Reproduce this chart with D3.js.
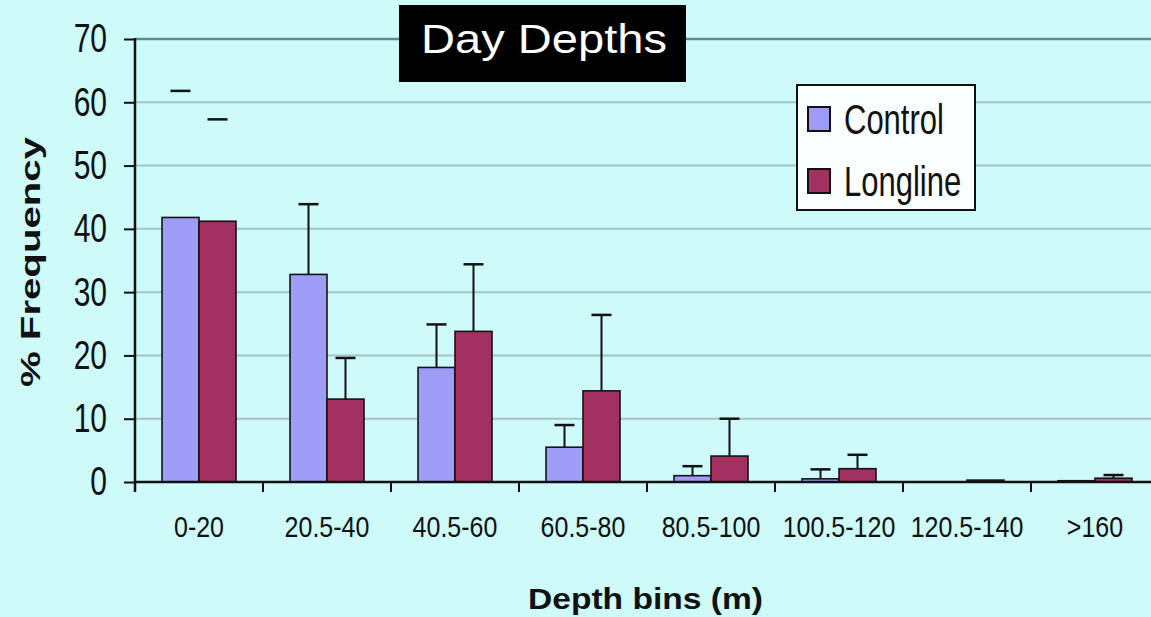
<!DOCTYPE html>
<html>
<head>
<meta charset="utf-8">
<script src="https://cdn.jsdelivr.net/npm/d3@7"></script>
<style>
  html, body { margin: 0; padding: 0; background: #cefafa; }
  svg { display: block; }
  text { font-family: "Liberation Sans", Arial, sans-serif; }
</style>
</head>
<body>
<svg id="chart" width="1151" height="617"></svg>
<script>
"use strict";

/********/
/* data */
/********/

const categories = ["0-20", "20.5-40", "40.5-60", "60.5-80", "80.5-100", "100.5-120", "120.5-140", ">160"];
const seriesNames = ["Control", "Longline"];
const controlValues = [41.8, 32.8, 18.1, 5.5, 1.0, 0.5, 0, 0.2];
const controlErrors = [20.0, 11.1, 6.8, 3.5, 1.5, 1.5, 0, 0];
const longlineValues = [41.2, 13.1, 23.8, 14.4, 4.1, 2.1, 0.3, 0.6];
const longlineErrors = [16.1, 6.5, 10.6, 12.0, 5.9, 2.2, 0, 0.5];
const yTicks = [0, 10, 20, 30, 40, 50, 60, 70];
const chartTitle = "Day Depths";
const xTitle = "Depth bins (m)";
const yTitle = "% Frequency";

/*********/
/* style */
/*********/

const colours = { Control: "#9e9cf6", Longline: "#a3315f" };
const capOnly = ["0-20"]; // stems not visible in the original for this bin
const width = 1151;

/**********/
/* scales */
/**********/

const x = d3.scaleBand().domain(categories).range([135, 1159]);
const xs = d3.scaleBand().domain(seriesNames).range([0, x.bandwidth()]).paddingOuter(0.73);
const y = d3.scaleLinear().domain([0, 70]).range([482, 39]);

const rows = seriesNames.map((name, si) => {
  const values = si === 0 ? controlValues : longlineValues;
  const errors = si === 0 ? controlErrors : longlineErrors;
  return categories.map((cat, i) => ({ cat, series: name, value: values[i], err: errors[i] }));
}).flat();

/********/
/* view */
/********/

const svg = d3.select("#chart");

svg.append("rect").attr("width", width).attr("height", 617).attr("fill", "#cefafa");

// gridlines
svg.append("g")
  .selectAll("line")
  .data(yTicks.filter(t => t > 0))
  .enter()
  .append("line")
  .attr("x1", 135)
  .attr("x2", width)
  .attr("y1", d => y(d))
  .attr("y2", d => y(d))
  .attr("stroke", d => (d === 70 ? "#5e8c8c" : "#a4c4c4"))
  .attr("stroke-width", d => (d === 70 ? 2.5 : 2));

// bars
svg.append("g")
  .selectAll("rect")
  .data(rows.filter(d => d.value > 0))
  .enter()
  .append("rect")
  .attr("x", d => x(d.cat) + xs(d.series))
  .attr("y", d => y(d.value))
  .attr("width", xs.bandwidth())
  .attr("height", d => y(0) - y(d.value))
  .attr("fill", d => colours[d.series])
  .attr("stroke", "#141414")
  .attr("stroke-width", 1.6);

// error bars
const errs = svg.append("g").selectAll("g")
  .data(rows.filter(d => d.err > 0))
  .enter()
  .append("g")
  .attr("transform", d => `translate(${x(d.cat) + xs(d.series) + xs.bandwidth() / 2},0)`);

errs.filter(d => !capOnly.includes(d.cat))
  .append("line")
  .attr("y1", d => y(d.value))
  .attr("y2", d => y(d.value + d.err))
  .attr("stroke", "#111")
  .attr("stroke-width", 2);

errs.append("line")
  .attr("x1", -10)
  .attr("x2", 10)
  .attr("y1", d => y(d.value + d.err))
  .attr("y2", d => y(d.value + d.err))
  .attr("stroke", "#111")
  .attr("stroke-width", 2.5);

// y axis
const yAxis = svg.append("g")
  .attr("transform", "translate(135,0)")
  .call(d3.axisLeft(y).tickValues(yTicks).tickSize(11).tickPadding(17));
yAxis.select(".domain").remove();
yAxis.selectAll(".tick line").attr("stroke", "#111").attr("stroke-width", 2);
yAxis.selectAll(".tick text")
  .attr("font-size", 30)
  .attr("font-family", "Liberation Sans, Arial, sans-serif")
  .attr("fill", "#111")
  .attr("transform", "scale(1,1.35)");
svg.append("line")
  .attr("x1", 135).attr("x2", 135)
  .attr("y1", y(70) - 1).attr("y2", y(0) + 10)
  .attr("stroke", "#111").attr("stroke-width", 2.5);

// x axis
const xAxis = svg.append("g")
  .attr("transform", `translate(0,${y(0)})`)
  .call(d3.axisBottom(x).tickSize(0));
xAxis.select(".domain").remove();
xAxis.selectAll(".tick text")
  .attr("y", 0)
  .attr("dy", 0)
  .attr("font-size", 25)
  .attr("font-family", "Liberation Sans, Arial, sans-serif")
  .attr("fill", "#111")
  .attr("transform", "translate(0,55) scale(1,1.2)");
svg.append("g")
  .selectAll("line")
  .data(categories.slice(1))
  .enter()
  .append("line")
  .attr("x1", d => x(d))
  .attr("x2", d => x(d))
  .attr("y1", y(0))
  .attr("y2", y(0) + 10)
  .attr("stroke", "#111")
  .attr("stroke-width", 2);
svg.append("line")
  .attr("x1", 135).attr("x2", width)
  .attr("y1", y(0)).attr("y2", y(0))
  .attr("stroke", "#111").attr("stroke-width", 2.5);

// axis titles
svg.append("text")
  .attr("transform", "translate(40,262) rotate(-90)")
  .attr("text-anchor", "middle")
  .attr("font-family", "DejaVu Sans, sans-serif")
  .attr("font-weight", "bold")
  .attr("font-size", 27)
  .attr("textLength", 250)
  .attr("lengthAdjust", "spacingAndGlyphs")
  .attr("fill", "#111")
  .text(yTitle);

svg.append("text")
  .attr("x", 528)
  .attr("y", 609)
  .attr("font-family", "DejaVu Sans, sans-serif")
  .attr("font-weight", "bold")
  .attr("font-size", 30)
  .attr("textLength", 235)
  .attr("lengthAdjust", "spacingAndGlyphs")
  .attr("fill", "#111")
  .text(xTitle);

// legend
const legend = svg.append("g").attr("transform", "translate(797,85)");
legend.append("rect")
  .attr("width", 178)
  .attr("height", 125)
  .attr("fill", "#fafefe")
  .attr("stroke", "#111")
  .attr("stroke-width", 2);
const item = legend.selectAll(".item")
  .data(seriesNames)
  .enter()
  .append("g")
  .attr("class", "item")
  .attr("transform", (d, i) => `translate(11,${22 + i * 62})`);
item.append("rect")
  .attr("width", 22)
  .attr("height", 24)
  .attr("fill", d => colours[d])
  .attr("stroke", "#111")
  .attr("stroke-width", 2);
item.append("text")
  .attr("transform", "translate(36,27) scale(1,1.35)")
  .attr("font-size", 31)
  .attr("fill", "#111")
  .text(d => d);

// title box
svg.append("rect")
  .attr("x", 399)
  .attr("y", 5)
  .attr("width", 287)
  .attr("height", 77)
  .attr("fill", "#000");
svg.append("text")
  .attr("x", 421)
  .attr("y", 53)
  .attr("font-size", 40)
  .attr("textLength", 246)
  .attr("lengthAdjust", "spacingAndGlyphs")
  .attr("fill", "#fff")
  .text(chartTitle);
</script>
</body>
</html>
